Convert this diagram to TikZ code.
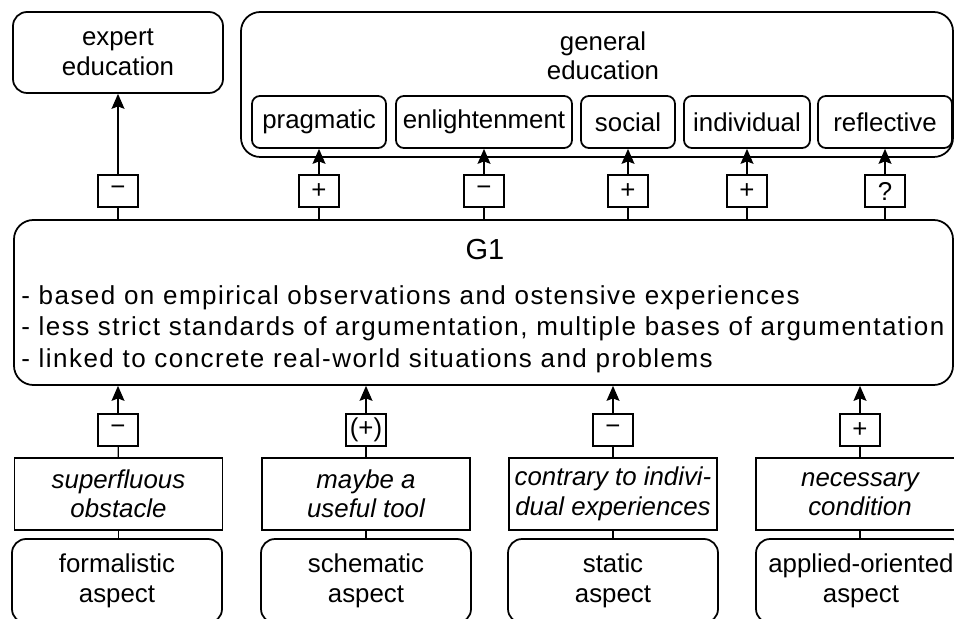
\documentclass[tikz,border=0pt]{standalone}
\usepackage{fontspec}
\setmainfont{Liberation Sans}
\usetikzlibrary{arrows.meta,positioning}

\begin{document}
\begin{tikzpicture}[x=0.2mm,y=-0.2mm,
  font=\fontsize{14.7}{16.8}\selectfont,
  rbox/.style={draw,line width=1pt,rounded corners=8pt,align=center,inner sep=0pt},
  subbox/.style={draw,line width=1pt,rounded corners=4.5pt,minimum height=10.4mm,inner sep=0pt},
  signbox/.style={draw,line width=1pt,fill=white,minimum width=8mm,minimum height=6.4mm,inner sep=0pt},
  notebox/.style={draw,line width=1pt,minimum width=41.6mm,minimum height=14.4mm,
    align=center,inner sep=0pt,font=\fontsize{14.7}{16.8}\selectfont\itshape},
  aspbox/.style={rbox,minimum width=42mm,minimum height=16.8mm},
  link/.style={line width=0.7pt},
  arr/.style={line width=0.7pt,-{Stealth[length=3mm,width=2.6mm,inset=0.5mm]}}]
  \clip (0,0) rectangle (954,619);
  % Expert education
  \node[rbox,minimum width=42mm,minimum height=16.2mm] (expert) at (118,52.5)
    {expert\\education};
  % General education with its five kinds
  \node[rbox,rounded corners=11pt,minimum width=142.4mm,minimum height=29mm] (general) at (597,84.5) {};
  \node[align=center,inner sep=0pt] (gentitle) at (603,56) {general\\education};
  \node[subbox,minimum width=26.8mm] (prag) at (319,122) {pragmatic};
  \node[subbox,minimum width=35.2mm] (enl) at (484,122) {enlightenment};
  \node[subbox,minimum width=18.8mm] (soc) at (628,122) {social};
  \node[subbox,minimum width=25.2mm] (ind) at (747,122) {individual};
  \node[subbox,minimum width=26.8mm] (refl) at (885,122) {reflective};
  % G1
  \node[rbox,rounded corners=11pt,minimum width=187.8mm,minimum height=33mm] (g1) at (483.5,302.5) {};
  \node[inner sep=0pt,font=\fontsize{16.5}{18}\selectfont] (g1title) at (485,250) {G1};
  \node[anchor=west,align=left,inner sep=0pt,
    font=\fontsize{14.8}{17.8}\selectfont\addfontfeatures{LetterSpace=5.6}] (g1text) at (21,329)
    {- based on empirical observations and ostensive experiences\\
     - less strict standards of argumentation, multiple bases of argumentation\\
     - linked to concrete real-world situations and problems};
  % Signs towards education
  \node[signbox] (t1) at (118,191) {−};
  \node[signbox] (t2) at (319,191) {+};
  \node[signbox] (t3) at (484,191) {−};
  \node[signbox] (t4) at (628,191) {+};
  \node[signbox] (t5) at (747,191) {+};
  \node[signbox] (t6) at (885,191) {?};
  % Assessments
  \node[notebox] (n1) at (118.5,494) {superfluous\\obstacle};
  \node[notebox] (n2) at (366,494) {maybe a\\useful tool};
  \node[notebox] (n3) at (613,494) {contrary to indivi-\\dual experiences};
  \node[notebox] (n4) at (860,494) {necessary\\condition};
  % Aspects
  \node[aspbox] (a1) at (117,581) {formalistic\\aspect};
  \node[aspbox] (a2) at (366,581) {schematic\\aspect};
  \node[aspbox] (a3) at (613,581) {static\\aspect};
  \node[aspbox] (a4) at (861,581) {applied-oriented\\aspect};
  % Signs towards G1
  \node[signbox] (b1) at (118,430) {−};
  \node[signbox] (b2) at (366,430) {(+)};
  \node[signbox] (b3) at (613,430) {−};
  \node[signbox] (b4) at (860,430) {+};
  % Connectors upwards
  \draw[link] (g1.north -| t1) -- (t1);
  \draw[arr] (t1) -- (expert);
  \draw[link] (g1.north -| t2) -- (t2);
  \draw[arr] (t2) -- (prag);
  \draw[link] (g1.north -| t3) -- (t3);
  \draw[arr] (t3) -- (enl);
  \draw[link] (g1.north -| t4) -- (t4);
  \draw[arr] (t4) -- (soc);
  \draw[link] (g1.north -| t5) -- (t5);
  \draw[arr] (t5) -- (ind);
  \draw[link] (g1.north -| t6) -- (t6);
  \draw[arr] (t6) -- (refl);
  \draw[link] (a1.north -| n1.south) -- (n1);
  \draw[link] (n1) -- (b1);
  \draw[arr] (b1) -- (b1 |- g1.south);
  \draw[link] (a2) -- (n2);
  \draw[link] (n2) -- (b2);
  \draw[arr] (b2) -- (b2 |- g1.south);
  \draw[link] (a3) -- (n3);
  \draw[link] (n3) -- (b3);
  \draw[arr] (b3) -- (b3 |- g1.south);
  \draw[link] (a4.north -| n4.south) -- (n4);
  \draw[link] (n4) -- (b4);
  \draw[arr] (b4) -- (b4 |- g1.south);
\end{tikzpicture}
\end{document}
